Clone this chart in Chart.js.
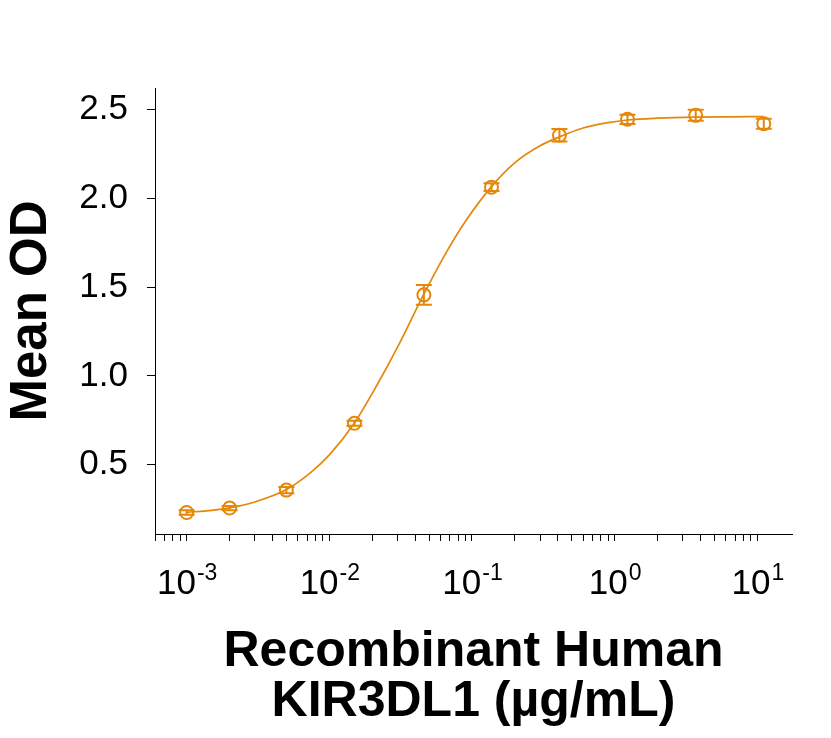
<!DOCTYPE html>
<html>
<head>
<meta charset="utf-8">
<script src="https://cdn.jsdelivr.net/npm/chart.js@4.4.0/dist/chart.umd.min.js"></script>
<style>
    body { margin: 0; background: #fff; }
</style>
</head>
<body>

<canvas id="myChart" width="831" height="738"></canvas>

<script>
    // measured points (ug/mL) with error bars
    const concentrations = [0.001, 0.002, 0.005, 0.015, 0.046, 0.137, 0.41, 1.23, 3.7, 11.1];
    const meanOD = [0.231, 0.256, 0.357, 0.733, 1.456, 2.062, 2.354, 2.444, 2.466, 2.419];
    const errOD = [0.012, 0.012, 0.018, 0.014, 0.056, 0.022, 0.035, 0.026, 0.031, 0.028];

    // fitted curve
    const fitConc = [0.001, 0.0015, 0.002, 0.003, 0.005, 0.0075, 0.01, 0.015, 0.022, 0.03, 0.046, 0.065,
                     0.09, 0.137, 0.2, 0.3, 0.41, 0.6, 0.9, 1.23, 2, 3.7, 6.5, 11.1];
    const fitOD = [0.232, 0.243, 0.257, 0.29, 0.36, 0.46, 0.555, 0.735, 0.96, 1.16, 1.46, 1.685,
                   1.87, 2.065, 2.2, 2.295, 2.345, 2.395, 2.425, 2.44, 2.45, 2.456, 2.458, 2.459];

    const yTickValues = [0.5, 1.0, 1.5, 2.0, 2.5];
    const xTickValues = [0.001, 0.01, 0.1, 1, 10];
    const xTickExponents = ['-3', '-2', '-1', '0', '1'];

    const xTitle = ['Recombinant Human', 'KIR3DL1 (\u00b5g/mL)'];
    const yTitle = 'Mean OD';

    const orange = '#E5870A';
    const fam = "'Liberation Sans', Arial, sans-serif";

    Chart.defaults.color = '#000';
    Chart.defaults.font.family = fam;

    const extras = {
        id: 'extras',
        afterDatasetsDraw(chart) {
            const ctx = chart.ctx, xs = chart.scales.x, ys = chart.scales.y;
            ctx.save();
            ctx.strokeStyle = orange;
            ctx.lineWidth = 2;
            for (let i = 0; i < concentrations.length; i++) {
                const px = xs.getPixelForValue(concentrations[i]);
                const hi = ys.getPixelForValue(meanOD[i] + errOD[i]);
                const lo = ys.getPixelForValue(meanOD[i] - errOD[i]);
                ctx.beginPath();
                ctx.moveTo(px, hi); ctx.lineTo(px, lo);
                ctx.moveTo(px - 8, hi); ctx.lineTo(px + 8, hi);
                ctx.moveTo(px - 8, lo); ctx.lineTo(px + 8, lo);
                ctx.stroke();
            }
            ctx.restore();
        },
        afterDraw(chart) {
            // x tick labels as 10 with a raised exponent
            const ctx = chart.ctx, xs = chart.scales.x;
            ctx.save();
            ctx.fillStyle = '#000';
            ctx.textBaseline = 'alphabetic';
            ctx.textAlign = 'left';
            for (let i = 0; i < xTickValues.length; i++) {
                const px = xs.getPixelForValue(xTickValues[i]);
                ctx.font = '35px ' + fam;
                const w1 = ctx.measureText('10').width;
                ctx.font = '23px ' + fam;
                const w2 = ctx.measureText(xTickExponents[i]).width;
                const x0 = px - (w1 + w2) / 2;
                ctx.font = '35px ' + fam;
                ctx.fillText('10', x0, 594);
                ctx.font = '23px ' + fam;
                ctx.fillText(xTickExponents[i], x0 + w1 + 1, 580);
            }
            ctx.restore();
        }
    };

    new Chart('myChart', {
        type: 'line',
        data: {
            datasets: [{
                data: concentrations.map((c, i) => ({x: c, y: meanOD[i]})),
                showLine: false,
                pointRadius: 6.5,
                pointBorderWidth: 2,
                pointBorderColor: orange,
                pointBackgroundColor: 'rgba(0,0,0,0)',
                borderColor: orange
            }, {
                data: fitConc.map((c, i) => ({x: c, y: fitOD[i]})),
                borderColor: orange,
                borderWidth: 1.7,
                pointRadius: 0,
                cubicInterpolationMode: 'monotone',
                fill: false
            }]
        },
        options: {
            responsive: false,
            animation: false,
            layout: { padding: { top: 88, right: 39, left: 0, bottom: 0 } },
            plugins: { legend: { display: false }, tooltip: { enabled: false } },
            scales: {
                x: {
                    type: 'logarithmic',
                    min: 0.00062,
                    max: 17.5,
                    afterBuildTicks: s => {
                        const t = [];
                        for (let d = -4; d <= 1; d++) {
                            for (let m = 1; m <= 9; m++) {
                                const v = m * Math.pow(10, d);
                                if (v >= s.min && v <= s.max) t.push({value: v});
                            }
                        }
                        s.ticks = t;
                    },
                    afterFit: s => { s.height = 204; },
                    ticks: { display: false },
                    grid: { drawOnChartArea: false, tickLength: 7, color: '#000', lineWidth: 1 },
                    border: { color: '#000', width: 1 },
                    title: {
                        display: true,
                        text: xTitle,
                        color: '#000',
                        font: { size: 50, weight: 'bold', lineHeight: 1.0 },
                        padding: { top: 0, bottom: 11 }
                    }
                },
                y: {
                    type: 'linear',
                    min: 0.11,
                    max: 2.62,
                    afterBuildTicks: s => { s.ticks = yTickValues.map(v => ({value: v})); },
                    afterFit: s => { s.width = 155; },
                    ticks: {
                        font: { size: 35 },
                        color: '#000',
                        padding: 19,
                        callback: v => v.toFixed(1)
                    },
                    grid: { drawOnChartArea: false, tickLength: 8, color: '#000', lineWidth: 1 },
                    border: { color: '#000', width: 1 },
                    title: {
                        display: true,
                        text: yTitle,
                        color: '#000',
                        font: { size: 51, weight: 'bold', lineHeight: 1.2 },
                        padding: { top: 1, bottom: 0 }
                    }
                }
            }
        },
        plugins: [extras]
    });
</script>

</body>
</html>
